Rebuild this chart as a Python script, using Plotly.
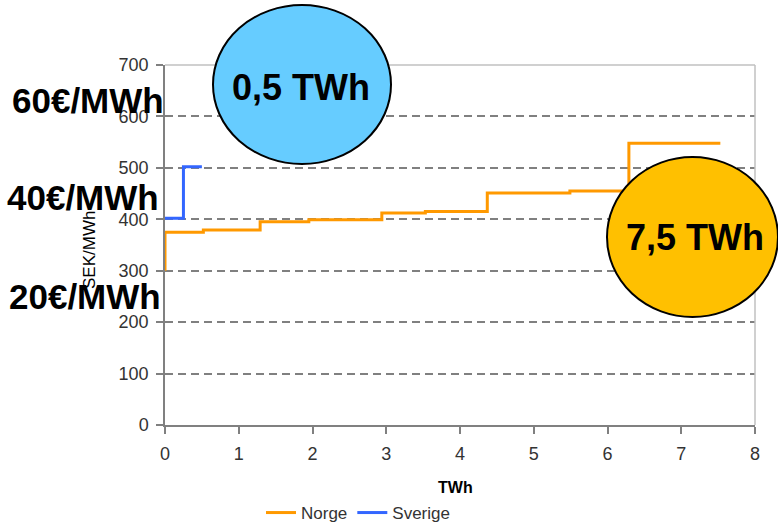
import plotly.graph_objects as go

# Data
norge_x = [0, 0, 0.52, 1.29, 1.95, 2.94, 3.53, 4.37, 5.49, 6.29, 7.53]
norge_y = [300, 375, 379, 395, 399, 412, 415, 451, 455, 548, 548]
sverige_x = [0, 0.25, 0.5]
sverige_y = [402, 502, 502]
x_ticks = [0, 1, 2, 3, 4, 5, 6, 7, 8]
y_ticks = [0, 100, 200, 300, 400, 500, 600, 700]
euro_labels = ["60€/MWh", "40€/MWh", "20€/MWh"]
bubble_labels = ["0,5 TWh", "7,5 TWh"]

FONT = "Liberation Sans, Arial, sans-serif"
W, H = 778, 525
L, R, T, B = 165, 23, 65, 100
PW, PH = W - L - R, H - T - B


def px(x):
    return (x - L) / PW


def py(y):
    return (H - B - y) / PH


fig = go.Figure()
fig.add_trace(go.Scatter(x=norge_x, y=norge_y, mode="lines", name="Norge",
                         line=dict(color="#FF9900", width=3, shape="hv")))
fig.add_trace(go.Scatter(x=sverige_x, y=sverige_y, mode="lines", name="Sverige",
                         line=dict(color="#3366FF", width=3, shape="hv")))

shapes = [
    dict(type="line", xref="paper", yref="paper", x0=0, x1=1, y0=1, y1=1,
         line=dict(color="#C0C0C0", width=1.5), layer="above"),
    dict(type="line", xref="paper", yref="paper", x0=1, x1=1, y0=0, y1=1,
         line=dict(color="#C0C0C0", width=1.5), layer="above"),
    dict(type="circle", xref="paper", yref="paper",
         x0=px(213), x1=px(391), y0=py(164), y1=py(5),
         fillcolor="#66CCFF", line=dict(color="black", width=2), layer="above"),
    dict(type="circle", xref="paper", yref="paper",
         x0=px(607), x1=px(778), y0=py(317), y1=py(157),
         fillcolor="#FFC000", line=dict(color="black", width=2), layer="above"),
]

annotations = [
    dict(text="SEK/MWh", xref="paper", yref="paper", x=px(90), y=py(250),
         textangle=-90, showarrow=False, font=dict(family=FONT, size=17, color="black"),
         xanchor="center", yanchor="middle"),
    dict(text="<b>TWh</b>", xref="paper", yref="paper", x=px(455), y=py(487),
         showarrow=False, font=dict(family=FONT, size=16, color="black"),
         xanchor="center", yanchor="middle"),
    dict(text="<b>" + euro_labels[0] + "</b>", xref="paper", yref="paper", x=px(11), y=py(100),
         showarrow=False, font=dict(family=FONT, size=35, color="black"),
         xanchor="left", yanchor="middle", borderpad=0),
    dict(text="<b>" + euro_labels[1] + "</b>", xref="paper", yref="paper", x=px(6), y=py(197),
         showarrow=False, font=dict(family=FONT, size=35, color="black"),
         xanchor="left", yanchor="middle", borderpad=0),
    dict(text="<b>" + euro_labels[2] + "</b>", xref="paper", yref="paper", x=px(8), y=py(296),
         showarrow=False, font=dict(family=FONT, size=35, color="black"),
         xanchor="left", yanchor="middle", borderpad=0),
    dict(text="<b>" + bubble_labels[0] + "</b>", xref="paper", yref="paper", x=px(301), y=py(87),
         showarrow=False, font=dict(family=FONT, size=36, color="black"),
         xanchor="center", yanchor="middle"),
    dict(text="<b>" + bubble_labels[1] + "</b>", xref="paper", yref="paper", x=px(695), y=py(238),
         showarrow=False, font=dict(family=FONT, size=36, color="black"),
         xanchor="center", yanchor="middle"),
]

fig.update_layout(
    width=W, height=H,
    margin=dict(l=L, r=R, t=T, b=B, pad=0),
    paper_bgcolor="white", plot_bgcolor="white",
    font=dict(family=FONT, size=16, color="#333333"),
    showlegend=True,
    legend=dict(orientation="h", xref="container", yref="container",
                x=358 / W, y=(H - 513) / H, xanchor="center", yanchor="middle",
                font=dict(family=FONT, size=17, color="#333333"), itemwidth=30,
                bgcolor="rgba(0,0,0,0)"),
    shapes=shapes,
    annotations=annotations,
    xaxis=dict(range=[0, 8], tickvals=x_ticks, showgrid=False, zeroline=False,
               showline=True, linecolor="#808080", linewidth=1.5,
               ticks="outside", ticklen=7, tickcolor="#808080", tickwidth=1.5,
               ticklabelstandoff=5,
               tickfont=dict(family=FONT, size=18, color="#333333"), fixedrange=True,
               automargin=False),
    yaxis=dict(range=[0, 700], tickvals=y_ticks, showgrid=True, gridcolor="#808080",
               griddash="8px,5px", gridwidth=1.5, zeroline=False,
               showline=True, linecolor="#808080", linewidth=1.5,
               ticks="outside", ticklen=7, tickcolor="#808080", tickwidth=1.5,
               ticklabelstandoff=4,
               tickfont=dict(family=FONT, size=18, color="#333333"), fixedrange=True,
               automargin=False),
)

fig.write_html("out.html")
